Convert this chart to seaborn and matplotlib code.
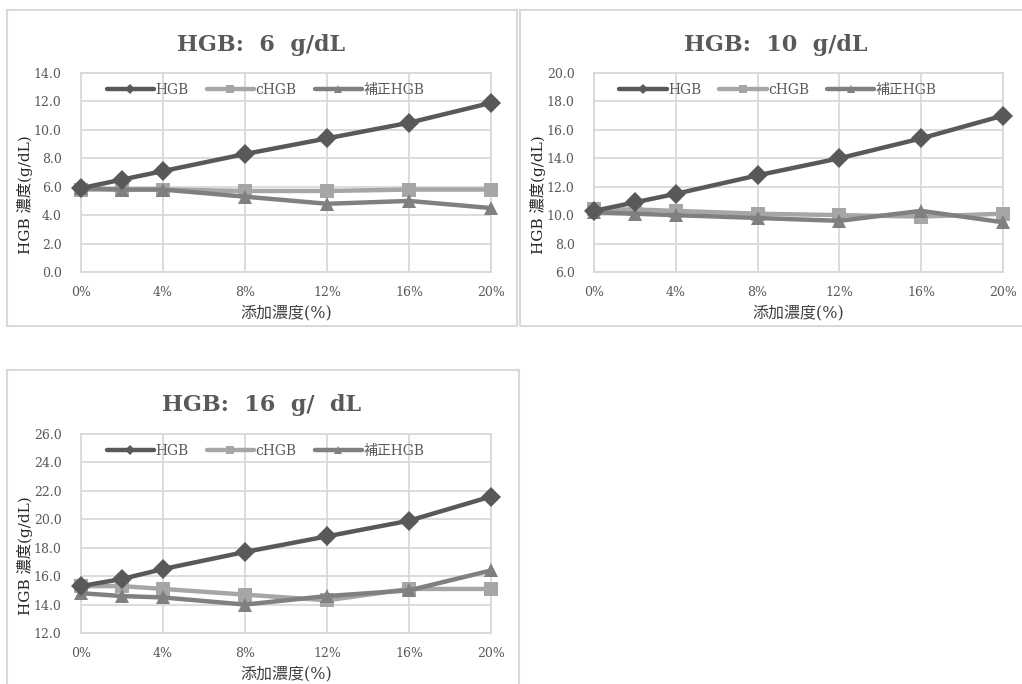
import matplotlib
matplotlib.use("Agg")
import matplotlib.pyplot as plt
from matplotlib.patches import Rectangle
import numpy as np
import pandas as pd
import seaborn as sns

# 添加濃度 (%) and measured values for each baseline HGB level
conc = [0, 2, 4, 8, 12, 16, 20]
xticks = [0, 4, 8, 12, 16, 20]
xtick_labels = ["0%", "4%", "8%", "12%", "16%", "20%"]
series_names = ["HGB", "cHGB", "補正HGB"]

hgb6 = [5.9, 6.5, 7.1, 8.3, 9.4, 10.5, 11.9]
chgb6 = [5.8, 5.8, 5.8, 5.7, 5.7, 5.8, 5.8]
corr6 = [5.9, 5.8, 5.8, 5.3, 4.8, 5.0, 4.5]

hgb10 = [10.3, 10.9, 11.5, 12.8, 14.0, 15.4, 17.0]
chgb10 = [10.4, 10.4, 10.3, 10.1, 10.0, 9.9, 10.1]
corr10 = [10.2, 10.1, 10.0, 9.8, 9.6, 10.3, 9.5]

hgb16 = [15.3, 15.8, 16.5, 17.7, 18.8, 19.9, 21.6]
chgb16 = [15.3, 15.3, 15.1, 14.7, 14.3, 15.1, 15.1]
corr16 = [14.8, 14.6, 14.5, 14.0, 14.6, 15.0, 16.4]

titles = ["HGB:  6  g/dL", "HGB:  10  g/dL", "HGB:  16  g/  dL"]
y_ranges = [(0, 14), (6, 20), (12, 26)]
y_label = "HGB 濃度(g/dL)"
x_label = "添加濃度(%)"

sns.set_style("white")
plt.rcParams["font.family"] = ["DejaVu Serif", "Noto Sans CJK JP"]

colors = {"HGB": "#595959", "cHGB": "#A6A6A6", "補正HGB": "#808080"}
markers = {"HGB": "D", "cHGB": "s", "補正HGB": "^"}
text_gray = "#595959"
grid_gray = "#D9D9D9"

W, H = 1022, 684
fig = plt.figure(figsize=(W / 100, H / 100), dpi=100)


def fx(px):
    return px / W


def fy(py):
    return 1 - py / H


# chart frames (pixel boxes: left, top, right, bottom)
frames = [(7, 10, 517, 326), (520, 10, 1030, 326), (7, 370, 519, 690)]
for l, t, r, b in frames:
    fig.patches.append(Rectangle((fx(l), fy(b)), fx(r - l), (b - t) / H,
                                 transform=fig.transFigure, fill=False,
                                 edgecolor=grid_gray, linewidth=1.5, zorder=0))

# plot areas (pixel boxes)
areas = [(81, 73, 491, 272), (594, 73, 1003, 272), (81, 434, 491, 633)]
title_pos = [(261, 45), (776, 45), (262, 405)]
datasets = [(hgb6, chgb6, corr6), (hgb10, chgb10, corr10), (hgb16, chgb16, corr16)]

for (l, t, r, b), (tx, ty), vals, title, (y0, y1) in zip(areas, title_pos, datasets, titles, y_ranges):
    ax = fig.add_axes([fx(l), fy(b), fx(r - l), (b - t) / H])
    df = pd.DataFrame({
        "conc": conc * 3,
        "value": vals[0] + vals[1] + vals[2],
        "series": [s for s in series_names for _ in conc],
    })
    sns.lineplot(data=df, x="conc", y="value", hue="series", style="series",
                 hue_order=series_names, style_order=series_names,
                 palette=colors, markers=markers, dashes=False,
                 linewidth=3.2, markersize=10, markeredgewidth=0,
                 ax=ax, zorder=3)
    # draw series so HGB is on top
    for line, z in zip(ax.get_lines(), [5, 3, 4]):
        line.set_zorder(z)

    ax.set_xlim(0, 20)
    ax.set_ylim(y0, y1)
    ax.set_xticks(xticks)
    ax.set_xticklabels(xtick_labels)
    ax.set_yticks(np.arange(y0, y1 + 0.1, 2))
    ax.set_yticklabels([f"{v:.1f}" for v in np.arange(y0, y1 + 0.1, 2)])
    ax.tick_params(axis="both", length=0, labelsize=9, labelcolor=text_gray)
    ax.tick_params(axis="y", pad=14)
    ax.tick_params(axis="x", pad=10)
    ax.grid(True, color=grid_gray, linewidth=1.3)
    ax.set_axisbelow(True)
    for sp in ax.spines.values():
        sp.set_color(grid_gray)
        sp.set_linewidth(1.3)
    for line in ax.get_lines():
        line.set_clip_on(False)

    # axis titles placed in pixel offsets from the plot area
    ax.set_xlabel(x_label, fontsize=11.5, color="#404040")
    ax.xaxis.set_label_coords(0.5, -32 / (b - t))
    ax.set_ylabel(y_label, fontsize=11, color="#262626")
    ax.yaxis.set_label_coords(-48 / (r - l), 0.39)

    handles, labels = ax.get_legend_handles_labels()
    ax.legend(handles=handles, labels=labels, loc="center",
              bbox_to_anchor=(0.45, 0.915), ncol=3, frameon=False,
              fontsize=10, labelcolor=text_gray, markerscale=0.55,
              handlelength=3.4, handletextpad=0.1, columnspacing=1.3,
              borderpad=0, borderaxespad=0)

    fig.text(fx(tx), fy(ty), title, ha="center", va="center",
             fontsize=16, fontweight="bold", color=text_gray)

fig.savefig("out.png", dpi=100)
